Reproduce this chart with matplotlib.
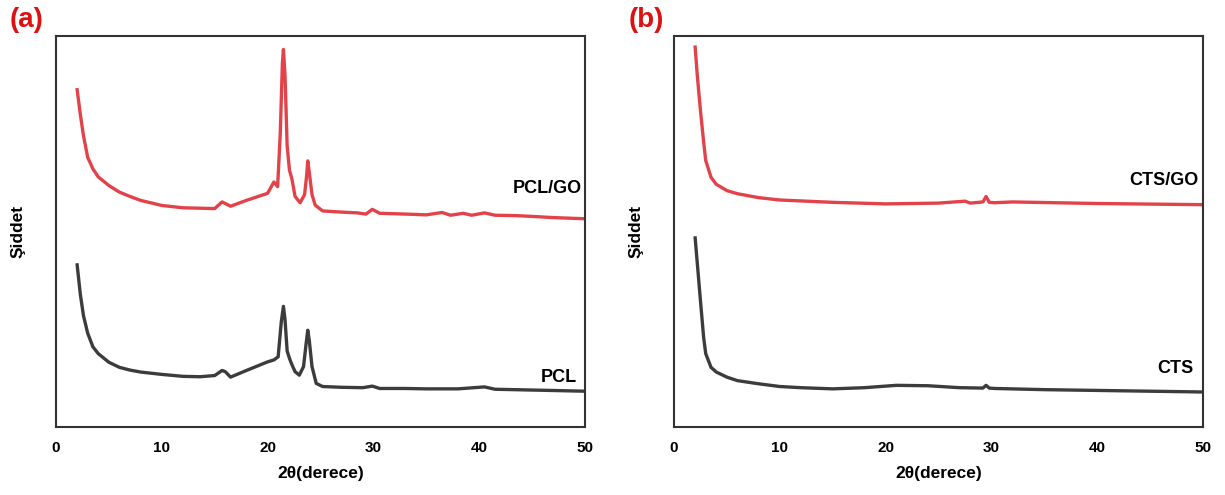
import matplotlib
matplotlib.use("Agg")
import matplotlib.pyplot as plt

plt.rcParams['font.family'] = ['Liberation Sans', 'DejaVu Sans']

# Panel (a) data: 2theta vs intensity (arbitrary units)
pclgo_x = [2.0, 2.3, 2.6, 3.0, 3.5, 4.0, 5.0, 6.0, 7.0, 8.0, 10.0, 12.0, 13.6, 15.0, 15.7, 16.0, 16.5,
           18.0, 20.0, 20.6, 20.95, 21.2, 21.4, 21.5, 21.65, 21.85, 22.07, 22.3, 22.6, 23.08, 23.5,
           23.7, 23.8, 23.95, 24.2, 24.5, 25.2, 27.0, 28.5, 29.3, 29.9, 30.6, 33.0, 35.0, 36.5, 37.3,
           38.5, 39.3, 40.5, 41.5, 43.5, 45.0, 47.0, 50.0]
pclgo_y = [86.3, 80.0, 74.5, 69.0, 66.0, 64.0, 61.8, 60.1, 59.0, 58.0, 56.7, 56.1, 56.0, 55.9, 57.6, 57.2, 56.5,
           58.0, 59.8, 62.7, 61.5, 75.0, 93.0, 96.6, 90.0, 72.0, 65.7, 63.5, 59.0, 57.4, 59.5,
           64.5, 68.1, 65.0, 59.5, 56.8, 55.3, 55.0, 54.8, 54.5, 55.7, 54.7, 54.5, 54.3, 54.9, 54.2,
           54.7, 54.2, 54.8, 54.2, 54.1, 53.9, 53.6, 53.3]

pcl_x = [2.0, 2.3, 2.6, 3.0, 3.5, 4.0, 5.0, 6.0, 7.0, 8.0, 10.0, 12.0, 13.6, 15.0, 15.7, 16.0, 16.5,
         18.0, 20.0, 20.6, 21.0, 21.3, 21.5, 21.65, 21.85, 22.07, 22.3, 22.6, 23.0, 23.4,
         23.65, 23.8, 23.95, 24.2, 24.6, 25.2, 27.0, 29.0, 29.9, 30.6, 33.0, 35.0, 38.0,
         40.5, 41.5, 45.0, 50.0]
pcl_y = [41.5, 34.0, 28.5, 24.0, 20.5, 18.8, 16.6, 15.3, 14.6, 14.1, 13.5, 13.0, 12.9, 13.2, 14.5, 14.2, 12.8,
         14.5, 16.7, 17.2, 18.0, 27.0, 30.9, 27.5, 19.5, 17.6, 16.0, 14.2, 13.3, 15.5,
         21.5, 24.8, 22.0, 15.5, 11.2, 10.4, 10.2, 10.1, 10.5, 9.9, 9.9, 9.8, 9.8,
         10.3, 9.7, 9.5, 9.2]

# Panel (b) data
ctsgo_x = [2.0, 2.2, 2.5, 2.8, 3.0, 3.5, 4.0, 5.0, 6.0, 8.0, 10.0, 15.0, 20.0, 25.0, 27.5, 28.0,
           29.2, 29.5, 29.8, 30.3, 32.0, 40.0, 50.0]
ctsgo_y = [97.2, 90.0, 81.0, 73.0, 68.2, 63.9, 62.1, 60.5, 59.7, 58.7, 58.1, 57.5, 57.1, 57.3, 57.8, 57.3,
           57.6, 59.0, 57.5, 57.4, 57.6, 57.2, 56.9]

cts_x = [2.0, 2.2, 2.5, 2.8, 3.0, 3.5, 4.0, 5.0, 6.0, 8.0, 10.0, 12.0, 15.0, 18.0, 21.0, 24.0,
         27.0, 29.2, 29.5, 29.8, 30.3, 35.0, 40.0, 50.0]
cts_y = [48.4, 42.0, 32.4, 23.0, 18.8, 15.3, 14.1, 12.8, 11.9, 11.1, 10.4, 10.1, 9.8, 10.1, 10.7, 10.6,
         10.1, 10.0, 10.7, 10.0, 9.9, 9.6, 9.4, 9.0]

xticks = [0, 10, 20, 30, 40, 50]
red = '#e2434a'
dark = '#3c3c3c'

fig = plt.figure(figsize=(12.25, 4.95), dpi=100)
axa = fig.add_axes([0.0457, 0.137, 0.4318, 0.790])
axb = fig.add_axes([0.5502, 0.137, 0.4318, 0.790])

panels = [
    (axa, pclgo_x, pclgo_y, pcl_x, pcl_y, 'PCL/GO', (49.7, 61.0), 'PCL', (49.2, 12.8)),
    (axb, ctsgo_x, ctsgo_y, cts_x, cts_y, 'CTS/GO', (49.6, 63.0), 'CTS', (49.1, 15.0)),
]

for ax, rx, ry, kx, ky, rl, rpos, kl, kpos in panels:
    ax.plot(rx, ry, color=red, lw=2.4, solid_joinstyle='round')
    ax.plot(kx, ky, color=dark, lw=2.4, solid_joinstyle='round')
    ax.set_xlim(0, 50)
    ax.set_ylim(0, 100)
    ax.set_xticks(xticks)
    ax.set_xticklabels([str(t) for t in xticks], fontsize=11, fontweight='bold')
    ax.set_yticks([])
    ax.tick_params(axis='x', length=0, pad=10)
    for s in ax.spines.values():
        s.set_linewidth(1.5)
        s.set_color('#333333')
    ax.set_xlabel('2θ(derece)', fontsize=12.5, fontweight='bold', labelpad=8)
    ax.set_ylabel('Şiddet', fontsize=12.5, fontweight='bold', labelpad=22)
    ax.text(rpos[0], rpos[1], rl, ha='right', va='center', fontsize=13, fontweight='bold')
    ax.text(kpos[0], kpos[1], kl, ha='right', va='center', fontsize=13, fontweight='bold')

fig.text(0.022, 0.960, '(a)', color='#dd1111', fontsize=20, fontweight='bold', ha='center', va='center')
fig.text(0.528, 0.960, '(b)', color='#dd1111', fontsize=20, fontweight='bold', ha='center', va='center')

fig.savefig('out.png', dpi=100)
